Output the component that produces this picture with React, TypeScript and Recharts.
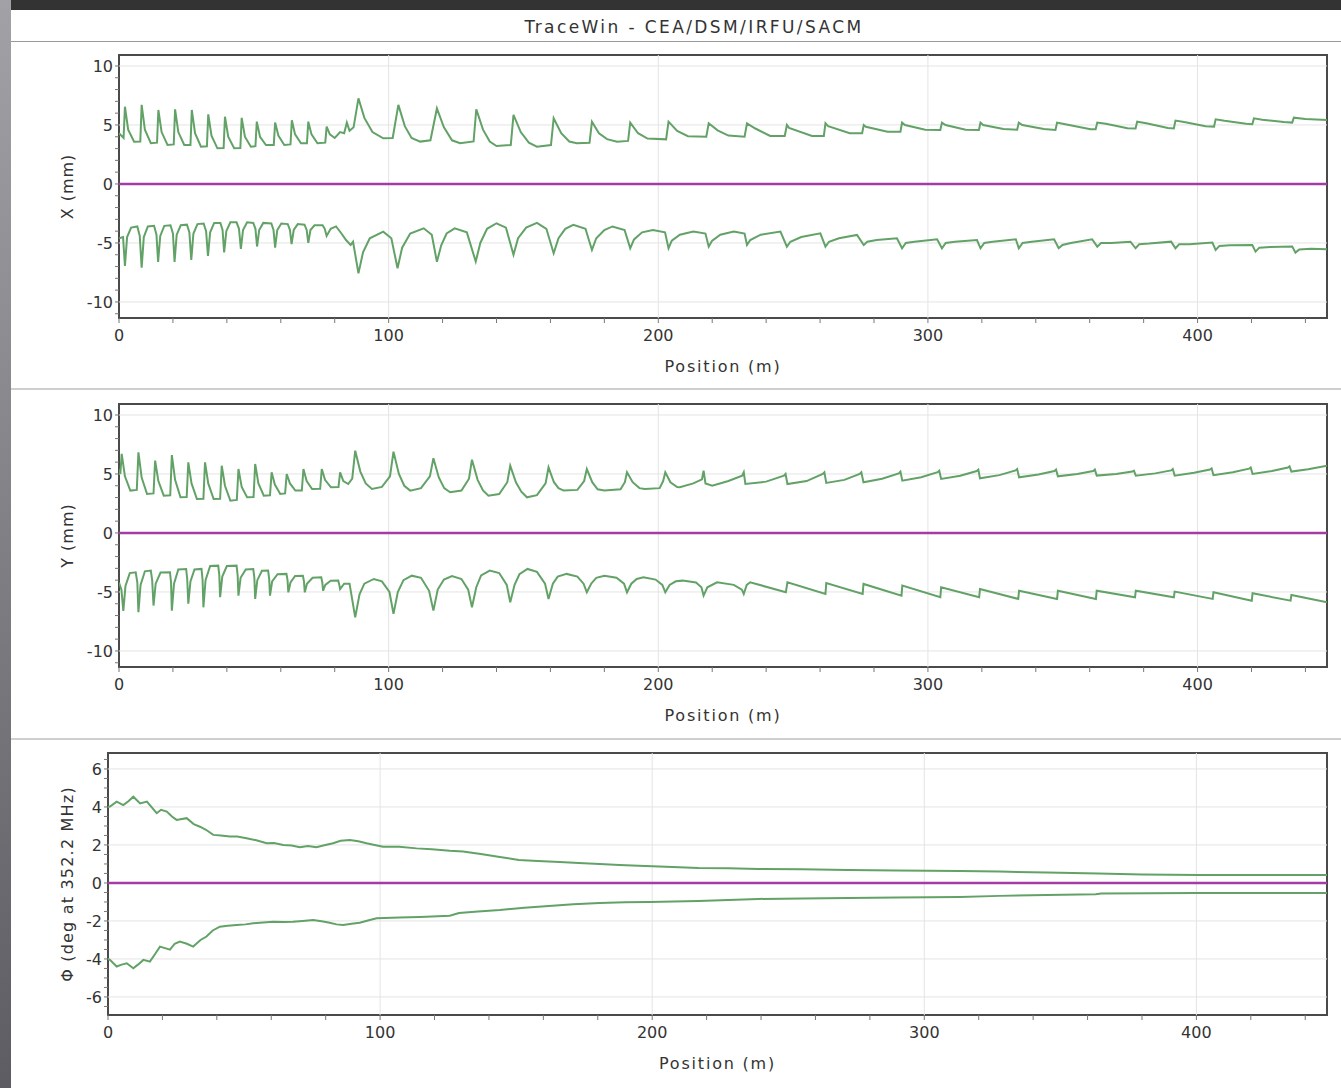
import { LineChart, Line, XAxis, YAxis, ReferenceArea, ReferenceLine, Label } from "recharts";

type Pt = [number, number];

// TraceWin beam envelopes, position in m
const xTicks = [0, 20, 40, 60, 80, 100, 120, 140, 160, 180, 200, 220, 240, 260, 280, 300, 320, 340, 360, 380, 400, 420, 440];
const xGrid = [100, 200, 300, 400];
const mmTicks = [-11, -10, -9, -8, -7, -6, -5, -4, -3, -2, -1, 0, 1, 2, 3, 4, 5, 6, 7, 8, 9, 10];
const mmGrid = [-10, -5, 5, 10];
const degTicks = [-6.5, -6, -5.5, -5, -4.5, -4, -3.5, -3, -2.5, -2, -1.5, -1, -0.5, 0, 0.5, 1, 1.5, 2, 2.5, 3, 3.5, 4, 4.5, 5, 5.5, 6, 6.5];
const degGrid = [-6, -4, -2, 2, 4, 6];

const xUpper: Pt[] = [
  [0, 4.3], [1.7, 3.9], [2.2, 6.55], [3.4, 4.6], [5.6, 3.58], [7.9, 3.6], [8.4, 6.7], [9.6, 4.6], [11.8, 3.45],
  [14.1, 3.5], [14.6, 6.27], [15.8, 4.4], [18.0, 3.3], [20.3, 3.35], [20.8, 6.33], [22.0, 4.4], [24.2, 3.3],
  [26.5, 3.3], [27.0, 6.27], [28.2, 4.3], [30.4, 3.16], [32.6, 3.2], [33.1, 5.9], [34.3, 4.1], [36.5, 3.02],
  [38.8, 3.05], [39.3, 5.7], [40.5, 4.0], [42.7, 3.02], [45.0, 3.05], [45.5, 5.6], [46.7, 4.0], [48.9, 3.16],
  [50.6, 3.2], [51.1, 5.28], [52.3, 4.0], [54.5, 3.3], [57.4, 3.3], [57.9, 5.2], [59.1, 4.1], [61.3, 3.3],
  [63.6, 3.35], [64.1, 5.4], [65.3, 4.2], [67.5, 3.45], [69.7, 3.45], [70.2, 5.28], [71.4, 4.2], [73.6, 3.45],
  [76.5, 3.5], [77.0, 4.86], [78.2, 4.2], [80.0, 3.9], [82.0, 4.4], [83.5, 4.3], [84.5, 5.2], [85.5, 4.5],
  [87.0, 4.8], [88.8, 7.26], [91.0, 5.6], [94.0, 4.4], [98.0, 3.87], [101.5, 3.9], [103.6, 6.7], [106.0, 4.9],
  [108.5, 3.9], [111.7, 3.59], [115.5, 3.7], [117.9, 6.4], [120.5, 4.8], [123.5, 3.7], [126.5, 3.45],
  [131.5, 3.6], [132.5, 6.33], [135.0, 4.6], [137.5, 3.6], [140.0, 3.22], [145.3, 3.3], [146.3, 5.85],
  [149.0, 4.4], [152.0, 3.5], [155.0, 3.16], [160.2, 3.3], [161.2, 5.56], [164.0, 4.3], [167.0, 3.6],
  [169.8, 3.45], [174.5, 3.5], [175.4, 5.28], [178.0, 4.3], [181.0, 3.8], [184.7, 3.58], [188.8, 3.65],
  [189.6, 5.2], [192.5, 4.3], [196.0, 3.85], [202.9, 3.78], [203.8, 5.28], [207.0, 4.5], [211.0, 4.05],
  [217.8, 4.0], [218.7, 5.14], [222.0, 4.55], [226.0, 4.1], [232.0, 4.0], [232.9, 5.14], [236.0, 4.7],
  [241.5, 4.07], [246.9, 4.07], [247.7, 5.0], [248.5, 4.75], [257.0, 4.07], [261.4, 4.07], [262.0, 5.14],
  [263.0, 4.9], [271.0, 4.3], [275.6, 4.3], [276.2, 5.0], [277.0, 4.85], [285.0, 4.43], [289.8, 4.43],
  [290.4, 5.2], [291.5, 5.0], [299.0, 4.6], [304.6, 4.58], [305.2, 5.2], [306.5, 5.0], [314.0, 4.6],
  [318.9, 4.58], [319.5, 5.2], [320.5, 5.0], [328.0, 4.65], [333.1, 4.6], [333.7, 5.2], [335.0, 5.0],
  [343.0, 4.65], [347.3, 4.58], [347.9, 5.2], [350.0, 5.1], [360.3, 4.63], [362.2, 4.63], [362.8, 5.2],
  [366.0, 5.1], [374.0, 4.72], [377.0, 4.7], [377.6, 5.28], [381.0, 5.15], [389.0, 4.75], [391.2, 4.7],
  [391.8, 5.37], [395.0, 5.25], [403.0, 4.9], [406.1, 4.86], [406.7, 5.48], [410.0, 5.35], [418.0, 5.1],
  [420.3, 5.06], [420.9, 5.56], [424.0, 5.45], [432.0, 5.25], [435.1, 5.2], [435.7, 5.62], [440.0, 5.5],
  [448.0, 5.42],
];

const xLower: Pt[] = [
  [0, -4.6], [1.5, -4.5], [2.2, -6.95], [3.0, -4.5], [4.5, -3.7], [6.8, -3.6], [7.7, -4.4], [8.4, -7.1],
  [9.2, -4.5], [10.7, -3.6], [13.0, -3.55], [13.9, -4.3], [14.5, -6.6], [15.3, -4.4], [16.8, -3.55],
  [19.1, -3.5], [20.0, -4.2], [20.6, -6.6], [21.4, -4.3], [22.9, -3.5], [25.2, -3.45], [26.1, -4.1],
  [26.8, -6.44], [27.6, -4.2], [29.1, -3.4], [31.4, -3.35], [32.3, -4.0], [33.0, -6.1], [33.8, -4.1],
  [35.3, -3.3], [37.6, -3.3], [38.4, -3.9], [39.0, -5.8], [39.8, -4.0], [41.3, -3.25], [43.6, -3.25],
  [44.5, -3.8], [45.2, -5.5], [46.0, -3.9], [47.5, -3.25], [49.8, -3.3], [50.6, -3.8], [51.2, -5.3],
  [52.0, -3.9], [53.5, -3.3], [56.5, -3.35], [57.3, -3.9], [57.9, -5.4], [58.7, -3.9], [60.2, -3.35],
  [62.6, -3.4], [63.4, -3.9], [64.0, -5.1], [64.8, -3.9], [66.3, -3.4], [68.8, -3.45], [69.6, -3.9],
  [70.2, -5.0], [71.0, -3.9], [72.5, -3.5], [75.5, -3.5], [76.3, -3.8], [77.0, -4.4], [78.5, -3.8],
  [80.5, -3.6], [82.5, -4.2], [84.2, -4.75], [85.9, -5.17], [86.8, -4.9], [88.8, -7.57], [90.5, -5.8],
  [93.0, -4.6], [98.0, -4.04], [101.0, -4.6], [103.3, -7.15], [105.0, -5.4], [108.0, -4.2], [113.0, -3.76],
  [116.0, -4.3], [117.9, -6.6], [119.5, -5.2], [121.5, -4.2], [124.5, -3.76], [129.0, -4.1], [132.3, -6.58],
  [134.0, -5.0], [136.5, -3.8], [140.0, -3.33], [143.5, -3.7], [146.3, -6.0], [148.0, -4.6], [151.0, -3.7],
  [155.0, -3.3], [158.5, -3.8], [161.2, -5.87], [163.0, -4.6], [165.5, -3.8], [168.5, -3.47], [173.0, -3.8],
  [175.4, -5.59], [177.0, -4.6], [180.0, -3.9], [183.0, -3.6], [187.5, -3.9], [189.6, -5.45], [191.0, -4.7],
  [194.0, -4.1], [198.0, -3.9], [202.5, -4.1], [203.8, -5.45], [205.0, -4.8], [208.0, -4.3], [213.0, -4.04],
  [217.5, -4.2], [218.7, -5.31], [220.0, -4.8], [223.0, -4.3], [228.0, -4.04], [232.0, -4.2], [232.9, -5.17],
  [234.1, -4.75], [238.0, -4.3], [245.3, -4.04], [247.7, -5.31], [249.0, -4.9], [253.0, -4.5], [260.1, -4.18],
  [262.0, -5.31], [263.3, -4.9], [267.0, -4.6], [273.7, -4.32], [276.2, -5.17], [277.5, -4.9], [281.0, -4.75],
  [288.5, -4.6], [290.4, -5.45], [291.8, -5.0], [295.0, -4.9], [303.4, -4.69], [305.2, -5.45], [306.6, -5.0],
  [310.0, -4.9], [318.2, -4.75], [319.5, -5.45], [320.9, -5.0], [324.0, -4.9], [332.6, -4.69], [333.7, -5.45],
  [335.1, -5.0], [338.5, -4.9], [346.8, -4.69], [348.5, -5.45], [349.9, -5.17], [353.0, -5.0], [360.9, -4.69],
  [362.8, -5.31], [364.2, -5.0], [368.0, -5.0], [375.1, -4.89], [377.0, -5.45], [378.4, -5.1], [382.0, -5.05],
  [390.2, -4.89], [391.8, -5.45], [393.2, -5.1], [397.0, -5.1], [405.5, -4.97], [406.7, -5.59], [408.1, -5.25],
  [412.0, -5.2], [420.3, -5.17], [421.5, -5.73], [422.9, -5.4], [427.0, -5.35], [435.1, -5.31], [436.3, -5.82],
  [437.7, -5.55], [442.0, -5.5], [448.0, -5.54],
];

const yUpper: Pt[] = [
  [0, 5.4], [0.5, 5.0], [1.0, 6.7], [2.2, 4.8], [4.2, 3.59], [6.6, 3.65], [7.2, 6.84], [8.4, 4.7], [10.4, 3.3],
  [12.8, 3.35], [13.4, 6.13], [14.6, 4.4], [16.6, 3.16], [19.0, 3.2], [19.6, 6.6], [20.8, 4.5], [22.8, 3.02],
  [25.1, 3.05], [25.7, 5.99], [26.9, 4.2], [28.9, 2.88], [31.3, 2.9], [31.9, 5.99], [33.1, 4.2], [35.1, 2.88],
  [37.5, 2.9], [38.1, 5.7], [39.3, 4.0], [41.3, 2.74], [43.7, 2.8], [44.3, 5.42], [45.5, 3.9], [47.5, 3.02],
  [49.9, 3.05], [50.5, 5.85], [51.7, 4.2], [53.7, 3.16], [56.0, 3.2], [56.6, 5.14], [57.8, 4.1], [59.8, 3.3],
  [61.6, 3.35], [62.2, 5.0], [63.4, 4.2], [65.4, 3.59], [67.8, 3.6], [68.4, 5.42], [69.6, 4.4], [71.6, 3.73],
  [74.6, 3.75], [75.2, 5.42], [76.4, 4.5], [78.6, 3.87], [81.4, 3.9], [82.0, 5.14], [83.2, 4.4], [85.0, 4.15],
  [86.5, 4.6], [87.6, 6.97], [89.5, 5.2], [91.5, 4.2], [93.8, 3.73], [97.5, 3.9], [100.5, 4.8], [101.8, 6.89],
  [103.8, 5.0], [105.8, 4.0], [108.0, 3.59], [112.0, 3.8], [115.3, 4.8], [116.6, 6.33], [118.6, 4.7],
  [120.6, 3.8], [122.8, 3.45], [127.0, 3.6], [129.8, 4.6], [130.9, 6.21], [133.0, 4.5], [135.0, 3.6],
  [137.0, 3.16], [141.0, 3.3], [144.0, 4.3], [145.1, 5.7], [147.2, 4.3], [149.2, 3.5], [151.3, 3.02],
  [155.0, 3.2], [158.2, 4.2], [159.3, 5.56], [161.3, 4.3], [163.0, 3.8], [164.9, 3.59], [170.0, 3.65],
  [172.5, 4.4], [173.5, 5.42], [175.5, 4.3], [177.5, 3.7], [180.0, 3.59], [186.0, 3.7], [187.6, 4.3],
  [188.4, 5.14], [190.5, 4.3], [193.0, 3.8], [195.0, 3.73], [200.5, 3.8], [201.8, 4.4], [202.6, 5.14],
  [204.5, 4.3], [207.0, 3.9], [208.0, 3.87], [213.0, 4.2], [216.2, 4.55], [216.8, 5.28], [217.5, 4.2],
  [220.0, 4.0], [226.0, 4.4], [231.1, 4.85], [231.7, 5.14], [232.3, 4.15], [240.0, 4.35], [246.6, 4.85],
  [247.2, 5.0], [247.9, 4.15], [255.0, 4.4], [261.0, 5.0], [261.6, 5.14], [262.3, 4.24], [269.0, 4.5],
  [274.7, 5.0], [275.3, 5.14], [276.1, 4.3], [283.0, 4.6], [289.2, 5.05], [289.8, 5.2], [290.5, 4.43],
  [297.5, 4.72], [303.6, 5.15], [304.2, 5.28], [304.9, 4.58], [312.0, 4.85], [318.1, 5.25], [318.7, 5.37],
  [319.3, 4.63], [326.5, 4.9], [332.5, 5.3], [333.1, 5.42], [333.8, 4.72], [341.0, 4.95], [346.9, 5.25],
  [347.5, 5.37], [348.2, 4.8], [355.4, 5.0], [361.3, 5.25], [361.9, 5.37], [362.6, 4.86], [369.8, 5.0],
  [375.8, 5.2], [376.4, 5.28], [377.1, 4.86], [384.3, 5.05], [390.2, 5.3], [390.8, 5.42], [391.5, 4.86],
  [398.7, 5.1], [404.6, 5.38], [405.2, 5.48], [405.9, 4.9], [413.1, 5.15], [419.1, 5.45], [419.7, 5.56],
  [420.4, 5.0], [427.6, 5.25], [433.5, 5.55], [434.1, 5.65], [434.8, 5.2], [441.0, 5.4], [448.0, 5.7],
];

const yLower: Pt[] = [
  [0, -4.2], [0.9, -4.8], [1.6, -6.6], [2.4, -4.5], [4.0, -3.4], [6.2, -3.33], [6.8, -4.2], [7.2, -6.72],
  [8.0, -4.4], [9.6, -3.25], [11.8, -3.19], [12.3, -4.0], [12.8, -6.15], [13.6, -4.3], [15.4, -3.35],
  [18.9, -3.33], [19.3, -4.2], [19.6, -6.58], [20.4, -4.3], [22.0, -3.1], [24.9, -3.05], [25.3, -3.9],
  [25.7, -6.0], [26.5, -4.1], [28.0, -3.1], [30.6, -3.05], [31.0, -4.0], [31.3, -6.3], [32.1, -4.0],
  [33.8, -2.8], [36.8, -2.77], [37.2, -3.6], [37.5, -5.45], [38.3, -3.7], [40.0, -2.8], [43.6, -2.77],
  [44.0, -3.6], [44.3, -5.31], [45.1, -3.8], [47.0, -3.1], [49.8, -3.05], [50.2, -3.8], [50.5, -5.59],
  [51.3, -4.0], [53.0, -3.2], [55.3, -3.19], [55.7, -3.9], [56.0, -5.31], [56.8, -4.1], [58.8, -3.5],
  [62.1, -3.47], [62.5, -4.0], [62.8, -5.03], [63.6, -4.2], [65.3, -3.65], [68.2, -3.62], [68.6, -4.1],
  [68.9, -5.03], [69.7, -4.3], [71.8, -3.8], [75.0, -3.76], [75.4, -4.2], [75.7, -4.9], [76.5, -4.4],
  [78.5, -4.05], [81.3, -4.04], [81.7, -4.4], [82.0, -4.75], [83.5, -4.3], [85.5, -4.3], [87.6, -7.15],
  [89.2, -5.2], [91.0, -4.3], [94.5, -3.9], [97.5, -4.1], [100.3, -5.0], [101.8, -6.86], [103.4, -5.0],
  [105.5, -4.0], [108.6, -3.62], [112.0, -3.8], [115.0, -4.9], [116.6, -6.58], [118.2, -4.8], [120.5, -3.95],
  [123.5, -3.65], [127.0, -3.9], [129.5, -4.8], [130.9, -6.3], [132.5, -4.6], [134.3, -3.6], [137.5, -3.19],
  [141.0, -3.4], [143.8, -4.4], [145.1, -5.87], [146.7, -4.4], [148.5, -3.5], [151.5, -3.05], [155.0, -3.3],
  [158.0, -4.3], [159.3, -5.59], [160.9, -4.3], [162.7, -3.7], [166.0, -3.47], [170.0, -3.7], [172.3, -4.3],
  [173.5, -5.03], [175.1, -4.3], [177.0, -3.8], [180.0, -3.62], [184.5, -3.8], [187.3, -4.3], [188.4, -5.03],
  [190.0, -4.3], [192.0, -3.9], [194.5, -3.76], [199.0, -3.95], [201.5, -4.4], [202.6, -5.03], [204.2, -4.4],
  [206.5, -4.1], [209.0, -4.04], [214.0, -4.2], [216.0, -4.6], [216.8, -5.31], [218.2, -4.6], [221.8, -4.18],
  [228.0, -4.4], [231.0, -4.8], [231.7, -5.17], [232.8, -4.4], [234.1, -4.18], [247.3, -5.03], [247.9, -4.18],
  [262.0, -5.17], [262.3, -4.24], [275.8, -5.17], [276.1, -4.32], [290.2, -5.31], [290.5, -4.46],
  [304.6, -5.45], [304.9, -4.6], [319.0, -5.45], [319.3, -4.75], [333.5, -5.59], [333.8, -4.89],
  [347.9, -5.59], [348.2, -4.89], [362.3, -5.59], [362.6, -4.89], [376.8, -5.45], [377.1, -4.89],
  [391.2, -5.45], [391.5, -4.97], [405.6, -5.59], [405.9, -5.03], [420.1, -5.74], [420.4, -5.11],
  [434.5, -5.74], [434.8, -5.25], [448.0, -5.87],
];

const phiUpper: Pt[] = [
  [0, 4.0], [0.7, 4.02], [3.2, 4.28], [5.6, 4.1], [7.5, 4.3], [9.3, 4.54], [11.8, 4.19], [14.3, 4.28],
  [17.9, 3.67], [19.5, 3.85], [21.6, 3.76], [23.5, 3.5], [25.2, 3.32], [28.9, 3.41], [31.5, 3.1], [33.8, 2.96],
  [36.0, 2.8], [38.7, 2.53], [41.5, 2.5], [44.8, 2.44], [47.5, 2.45], [50.9, 2.35], [54.5, 2.25], [58.3, 2.09],
  [61.0, 2.1], [64.4, 2.0], [67.5, 1.97], [70.5, 1.88], [73.5, 1.95], [76.6, 1.88], [79.5, 1.98], [82.7, 2.09],
  [85.5, 2.22], [88.9, 2.26], [92.0, 2.2], [95.0, 2.09], [98.0, 2.0], [101.1, 1.91], [107.0, 1.9],
  [113.4, 1.82], [119.0, 1.78], [125.6, 1.7], [130.5, 1.66], [137.0, 1.52], [144.0, 1.37], [151.0, 1.21],
  [158.0, 1.15], [166.0, 1.1], [173.0, 1.05], [180.7, 1.0], [188.0, 0.95], [195.0, 0.9], [205.0, 0.85],
  [217.0, 0.79], [228.0, 0.77], [239.0, 0.74], [255.0, 0.72], [272.0, 0.68], [290.0, 0.66], [313.0, 0.63],
  [327.6, 0.6], [345.0, 0.55], [364.0, 0.5], [380.0, 0.45], [401.0, 0.42], [425.0, 0.42], [448.0, 0.42],
];

const phiLower: Pt[] = [
  [0, -4.0], [0.7, -4.05], [3.2, -4.4], [5.0, -4.3], [6.9, -4.23], [9.3, -4.49], [11.0, -4.3], [13.0, -4.05],
  [15.4, -4.14], [17.5, -3.7], [19.1, -3.35], [22.8, -3.51], [24.5, -3.2], [26.4, -3.09], [29.0, -3.2],
  [31.3, -3.35], [34.0, -3.0], [36.2, -2.82], [38.5, -2.5], [41.1, -2.3], [44.0, -2.25], [47.3, -2.21],
  [50.5, -2.18], [53.4, -2.12], [57.0, -2.08], [60.7, -2.04], [64.5, -2.06], [68.0, -2.04], [71.5, -2.0],
  [75.4, -1.95], [78.5, -2.02], [81.5, -2.09], [84.0, -2.18], [86.4, -2.21], [89.5, -2.15], [92.5, -2.09],
  [95.5, -1.98], [98.7, -1.86], [107.2, -1.82], [114.6, -1.79], [125.6, -1.72], [129.0, -1.58], [136.0, -1.5],
  [144.0, -1.42], [153.0, -1.3], [162.0, -1.21], [171.0, -1.12], [180.7, -1.05], [190.0, -1.02], [199.0, -1.0],
  [217.0, -0.95], [228.0, -0.9], [239.0, -0.84], [255.0, -0.82], [272.0, -0.79], [290.0, -0.77],
  [313.0, -0.74], [327.6, -0.68], [345.0, -0.63], [363.0, -0.6], [365.0, -0.55], [400.0, -0.53], [448.0, -0.53],
];

const centroid: Pt[] = [[0, 0], [448, 0]];

const GREEN = "#62a267";
const MAGENTA = "#a53ca5";
const FONT = "DejaVu Sans";

const rows = (pts: Pt[]) => pts.map(([x, y]) => ({ x, y }));

interface PanelProps {
  top: number;
  plotTop: number;
  plotBottom: number;
  plotLeft: number;
  domain: [number, number];
  ticks: number[];
  labelEvery: number;
  grid: number[];
  title: string;
  titleSpacing: number;
  upper: Pt[];
  lower: Pt[];
}

function Panel({ top, plotTop, plotBottom, plotLeft, domain, ticks, labelEvery, grid, title, titleSpacing, upper, lower }: PanelProps) {
  const marginLeft = 134 - plotLeft;
  const tickStyle = { fill: "#333", fontSize: 16, fontFamily: FONT };
  return (
    <div style={{ position: "absolute", left: 0, top }}>
      <LineChart
        width={1341}
        height={plotBottom - top + 60}
        margin={{ top: plotTop - top, right: 14, bottom: 0, left: marginLeft }}
      >
        <XAxis
          type="number"
          dataKey="x"
          domain={[0, 448]}
          ticks={xTicks}
          interval={0}
          allowDataOverflow
          height={60}
          axisLine={false}
          tickSize={5}
          tickMargin={7}
          tickLine={{ stroke: "#777" }}
          tick={tickStyle}
          tickFormatter={(v: number) => (v % 100 === 0 ? String(v) : "")}
        >
          <Label value="Position (m)" position="insideBottom" offset={6} style={{ fill: "#333", fontSize: 16, fontFamily: FONT, letterSpacing: 1.8 }} />
        </XAxis>
        <YAxis
          type="number"
          dataKey="y"
          domain={domain}
          ticks={ticks}
          interval={0}
          allowDataOverflow
          width={plotLeft - marginLeft}
          axisLine={false}
          tickSize={4}
          tickMargin={2}
          tickLine={{ stroke: "#777" }}
          tick={tickStyle}
          tickFormatter={(v: number) => (v % labelEvery === 0 ? String(v) : "")}
        >
          <Label value={title} angle={-90} position="center" style={{ fill: "#333", fontSize: 16, fontFamily: FONT, letterSpacing: titleSpacing }} />
        </YAxis>
        {xGrid.map((g) => (
          <ReferenceLine key={"vx" + g} x={g} stroke="#e4e4e4" />
        ))}
        {grid.map((g) => (
          <ReferenceLine key={"hy" + g} y={g} stroke="#e4e4e4" />
        ))}
        <Line data={rows(upper)} dataKey="y" type="linear" dot={false} stroke={GREEN} strokeWidth={2} isAnimationActive={false} />
        <Line data={rows(lower)} dataKey="y" type="linear" dot={false} stroke={GREEN} strokeWidth={2} isAnimationActive={false} />
        <Line data={rows(centroid)} dataKey="y" type="linear" dot={false} stroke={MAGENTA} strokeWidth={2.5} isAnimationActive={false} />
        <ReferenceArea x1={0} x2={448} y1={domain[0]} y2={domain[1]} fill="none" stroke="#4a4a4a" strokeWidth={2} ifOverflow="visible" />
      </LineChart>
    </div>
  );
}

export default function App() {
  return (
    <div style={{ position: "absolute", left: 0, top: 0, width: 1341, height: 1088, background: "#fff", overflow: "hidden" }}>
      <div style={{ position: "absolute", left: 0, top: 0, width: 1341, height: 10, background: "#333" }} />
      <div style={{ position: "absolute", left: 0, top: 0, width: 11, height: 1088, background: "linear-gradient(#a2a2a6, #5c5c62)" }} />
      <div
        style={{
          position: "absolute", left: 47, top: 17, width: 1294, textAlign: "center",
          fontFamily: FONT, fontSize: 17, color: "#333", letterSpacing: 2.4,
        }}
      >
        TraceWin - CEA/DSM/IRFU/SACM
      </div>
      <div style={{ position: "absolute", left: 11, top: 41, width: 1330, height: 1, background: "#9a9a9a" }} />
      <div style={{ position: "absolute", left: 11, top: 388, width: 1330, height: 2, background: "#cfcfcf" }} />
      <div style={{ position: "absolute", left: 11, top: 738, width: 1330, height: 2, background: "#cfcfcf" }} />
      <Panel top={0} plotTop={55} plotBottom={318} plotLeft={119} domain={[-11.36, 10.93]} ticks={mmTicks} labelEvery={5} grid={mmGrid} title="X (mm)" titleSpacing={1} upper={xUpper} lower={xLower} />
      <Panel top={350} plotTop={404} plotBottom={667} plotLeft={119} domain={[-11.36, 10.93]} ticks={mmTicks} labelEvery={5} grid={mmGrid} title="Y (mm)" titleSpacing={1} upper={yUpper} lower={yLower} />
      <Panel top={700} plotTop={753} plotBottom={1015} plotLeft={108} domain={[-6.95, 6.84]} ticks={degTicks} labelEvery={2} grid={degGrid} title="Φ (deg at 352.2 MHz)" titleSpacing={1.2} upper={phiUpper} lower={phiLower} />
    </div>
  );
}
